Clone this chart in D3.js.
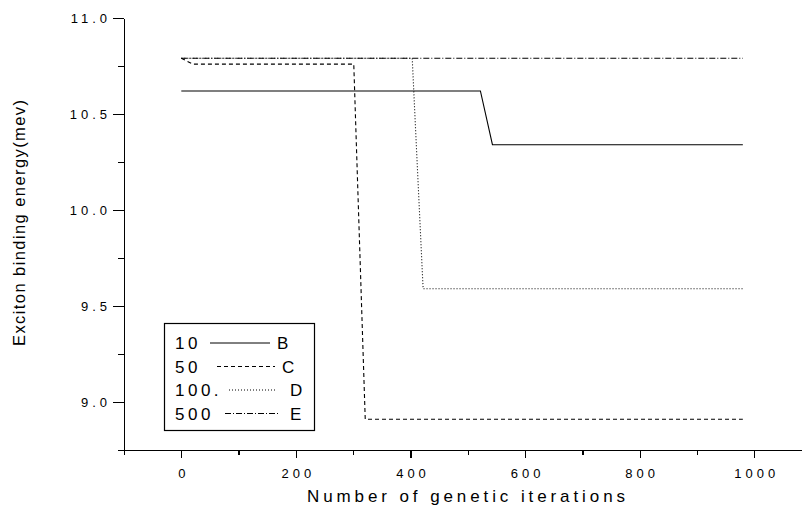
<!DOCTYPE html>
<html>
<head>
<meta charset="utf-8">
<script src="https://cdn.jsdelivr.net/npm/d3@7"></script>
<style>
    body { margin: 0; background: #fff; }
    svg { display: block; font-family: "Liberation Sans", Arial, sans-serif; }
    .axis path, .axis line { stroke: #000; stroke-width: 1.3px; shape-rendering: crispEdges; }
    .axis text { font-size: 13px; fill: #000; letter-spacing: 4px; }
</style>
</head>
<body>
<div id="chart"></div>
<script>
// series data
const legendLabels = ["10", "50", "100.", "500"];
const seriesNames = ["B", "C", "D", "E"];

const iterB = [0, 522, 543, 980];
const energyB = [10.62, 10.62, 10.34, 10.34];

const iterC = [0, 20, 301, 321, 980];
const energyC = [10.79, 10.76, 10.76, 8.91, 8.91];

const iterD = [0, 403, 422, 980];
const energyD = [10.79, 10.79, 9.59, 9.59];

const iterE = [0, 980];
const energyE = [10.79, 10.79];

const xMajor = [0, 200, 400, 600, 800, 1000];
const xMinor = [-100, 100, 300, 500, 700, 900];
const yMajor = [9.0, 9.5, 10.0, 10.5, 11.0];
const yMinor = [8.75, 9.25, 9.75, 10.25, 10.75];

const dashes = ["none", "4,3", "1,2", "6,2,1,2"];

let series = [
    {x: iterB, y: energyB},
    {x: iterC, y: energyC},
    {x: iterD, y: energyD},
    {x: iterE, y: energyE}
].map((s, i) => ({
    name: seriesNames[i],
    label: legendLabels[i],
    dash: dashes[i],
    points: s.x.map((v, j) => ({x: v, y: s.y[j]}))
}));

let width = 802, height = 512;

let svg = d3.select("#chart").append("svg")
    .attr("width", width)
    .attr("height", height);

// scales
let x = d3.scaleLinear()
    .domain([-100, 1100])
    .range([124, 124 + 1200 * 0.573]);

let y = d3.scaleLinear()
    .domain([8.75, 11.0])
    .range([450, 18]);

// axes (major + minor ticks, Origin style)
svg.append("g")
    .attr("class", "axis")
    .attr("transform", "translate(0,450)")
    .call(d3.axisBottom(x).tickValues(xMinor).tickSize(5).tickFormat(""))
    .call(g => g.select(".domain").remove());

svg.append("g")
    .attr("class", "axis x-axis")
    .attr("transform", "translate(0,450)")
    .call(d3.axisBottom(x).tickValues(xMajor).tickSize(8).tickSizeOuter(0).tickFormat(d3.format("d")))
    .call(g => g.selectAll("text").attr("dy", "1.3em").attr("dx", 2));

svg.append("g")
    .attr("class", "axis")
    .attr("transform", "translate(124,0)")
    .call(d3.axisLeft(y).tickValues(yMinor).tickSize(6).tickFormat(""))
    .call(g => g.select(".domain").remove());

svg.append("g")
    .attr("class", "axis y-axis")
    .attr("transform", "translate(124,0)")
    .call(d3.axisLeft(y).tickValues(yMajor).tickSize(11).tickSizeOuter(0).tickFormat(d3.format(".1f")))
    .call(g => g.selectAll("text").attr("x", -13));

// axis titles
svg.append("text")
    .attr("x", 466)
    .attr("y", 502)
    .attr("text-anchor", "middle")
    .attr("textLength", 318)
    .attr("lengthAdjust", "spacing")
    .style("font-size", "17px")
    .text("Number of genetic iterations");

svg.append("text")
    .attr("transform", "translate(25,223) rotate(-90)")
    .attr("text-anchor", "middle")
    .attr("textLength", 246)
    .attr("lengthAdjust", "spacing")
    .style("font-size", "16.5px")
    .text("Exciton binding energy(mev)");

// lines
let line = d3.line()
    .x(d => x(d.x))
    .y(d => y(d.y));

svg.selectAll(".series")
    .data(series)
    .enter().append("path")
    .attr("class", "series")
    .attr("d", d => line(d.points))
    .attr("fill", "none")
    .attr("stroke", "#000")
    .attr("stroke-width", 1.1)
    .attr("stroke-dasharray", d => d.dash);

// legend
let legend = svg.append("g").attr("class", "legend");

legend.append("rect")
    .attr("x", 164.5)
    .attr("y", 323.5)
    .attr("width", 150)
    .attr("height", 107)
    .attr("fill", "#fff")
    .attr("stroke", "#000")
    .attr("stroke-width", 1.2);

let lineStart = [210, 217, 229, 225];
let lineEnd = [270, 275, 277, 278];
let nameX = [277, 282, 290, 290];

let rows = legend.selectAll(".row")
    .data(series)
    .enter().append("g")
    .attr("class", "row")
    .attr("transform", (d, i) => `translate(0, ${343 + i * 23.5})`);

rows.append("text")
    .attr("x", 175)
    .attr("dy", "0.36em")
    .style("font-size", "17px")
    .style("letter-spacing", "3.5px")
    .text(d => d.label);

rows.append("line")
    .attr("x1", (d, i) => lineStart[i])
    .attr("x2", (d, i) => lineEnd[i])
    .attr("stroke", "#000")
    .attr("stroke-width", 1)
    .attr("stroke-dasharray", d => d.dash === "none" ? "none" : d.dash);

rows.append("text")
    .attr("x", (d, i) => nameX[i])
    .attr("dy", "0.36em")
    .style("font-size", "17px")
    .text(d => d.name);
</script>
</body>
</html>
